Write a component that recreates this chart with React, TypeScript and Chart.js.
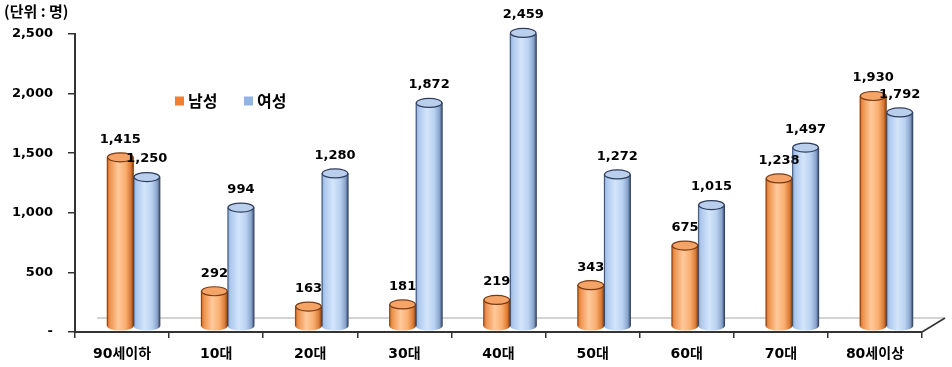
import React, { useEffect, useRef } from "react";
import { Chart, registerables } from "chart.js";

Chart.register(...registerables);

// ---- data ----
const categories = ["90세이하", "10대", "20대", "30대", "40대", "50대", "60대", "70대", "80세이상"];
const maleValues = [1415, 292, 163, 181, 219, 343, 675, 1238, 1930];
const femaleValues = [1250, 994, 1280, 1872, 2459, 1272, 1015, 1497, 1792];
const seriesNames = ["남성", "여성"];
const yTickValues = [0, 500, 1000, 1500, 2000, 2500];
const unitLabel = "(단위 : 명)";

// ---- style ----
const FONT = "'DejaVu Sans', 'Noto Sans CJK KR', sans-serif";
const KFONT = "'Noto Sans CJK KR', 'DejaVu Sans', sans-serif";
const BAR_W = 26.5;
const DEPTH_X_CAT = 0.122; // depth shift of bars, in categories
const DEPTH_Y_VAL = 50; // depth shift of bars, in value units

const palettes = [
  {
    legend: "#F07F32",
    top: "#F3A466",
    edge: "#7A3A12",
    stops: [
      [0, "#D46B28"],
      [0.12, "#EE9550"],
      [0.42, "#FFC99C"],
      [0.7, "#F9AE70"],
      [0.9, "#D97A35"],
      [1, "#7A3A12"],
    ],
  },
  {
    legend: "#93B3E2",
    top: "#BACFEC",
    edge: "#2F3D5C",
    stops: [
      [0, "#8DAEDC"],
      [0.12, "#AFCAEE"],
      [0.42, "#D3E5FB"],
      [0.7, "#B9D1F0"],
      [0.9, "#86A2CA"],
      [1, "#2F3D5C"],
    ],
  },
];

function barGradient(ctx: any, dsIndex: number) {
  const chart = ctx.chart;
  const pal = palettes[dsIndex];
  const xs = chart.scales.xb;
  if (!xs || !ctx.parsed) return pal.legend;
  const c = xs.getPixelForValue(ctx.parsed.x);
  if (!isFinite(c)) return pal.legend;
  const left = dsIndex === 0 ? c - BAR_W : c;
  const g = chart.ctx.createLinearGradient(left, 0, left + BAR_W, 0);
  pal.stops.forEach(([o, col]) => g.addColorStop(o as number, col as string));
  return g;
}

const cylinderPlugin = {
  id: "cylinder3d",
  beforeDatasetsDraw(chart: any) {
    const { ctx, chartArea } = chart;
    const y0 = chart.scales.y.getPixelForValue(0);
    ctx.save();
    ctx.strokeStyle = "#A8A8A8";
    ctx.lineWidth = 1;
    ctx.beginPath();
    ctx.moveTo(chartArea.left + 22, y0 - 14);
    ctx.lineTo(chartArea.right + 23, y0 - 14);
    ctx.stroke();
    ctx.strokeStyle = "#333";
    ctx.lineWidth = 1.5;
    ctx.beginPath();
    ctx.moveTo(chartArea.right, y0);
    ctx.lineTo(chartArea.right + 23, y0 - 14);
    ctx.stroke();
    ctx.restore();
  },
  afterDatasetsDraw(chart: any) {
    const { ctx } = chart;
    ctx.save();
    chart.data.datasets.forEach((ds: any, di: number) => {
      const meta = chart.getDatasetMeta(di);
      const pal = palettes[di];
      meta.data.forEach((el: any, i: number) => {
        const { x, y, base, width } = el.getProps(["x", "y", "base", "width"], true);
        const rx = width / 2;
        const ry = 4.5;
        // bottom
        ctx.beginPath();
        ctx.ellipse(x, base, rx, ry, 0, 0, Math.PI);
        ctx.closePath();
        ctx.fillStyle = el.options.backgroundColor;
        ctx.fill();
        // side outline
        ctx.strokeStyle = pal.edge;
        ctx.lineWidth = 0.8;
        ctx.beginPath();
        ctx.moveTo(x - rx + 0.4, y);
        ctx.lineTo(x - rx + 0.4, base);
        ctx.stroke();
        // top
        ctx.beginPath();
        ctx.ellipse(x, y, rx - 0.4, ry, 0, 0, Math.PI * 2);
        ctx.fillStyle = pal.top;
        ctx.fill();
        ctx.lineWidth = 1.2;
        ctx.strokeStyle = pal.edge;
        ctx.stroke();
        // value label
        ctx.fillStyle = "#000";
        ctx.font = `bold 13px ${FONT}`;
        ctx.textAlign = "center";
        ctx.textBaseline = "middle";
        ctx.fillText(Number(ds.data[i].y).toLocaleString("en-US"), x, y - 18);
      });
    });
    ctx.restore();
  },
  afterDraw(chart: any) {
    const { ctx } = chart;
    ctx.save();
    // unit label
    ctx.fillStyle = "#000";
    ctx.font = `bold 15px ${KFONT}`;
    ctx.textAlign = "left";
    ctx.textBaseline = "middle";
    ctx.fillText(unitLabel, 4, 11);
    // legend
    let lx = 175;
    const ly = 101;
    chart.data.datasets.forEach((ds: any, di: number) => {
      ctx.fillStyle = palettes[di].legend;
      ctx.fillRect(lx, ly - 4.5, 9, 9);
      ctx.fillStyle = "#000";
      ctx.font = `bold 16px ${KFONT}`;
      ctx.fillText(ds.label, lx + 13, ly);
      lx += 69;
    });
    ctx.restore();
  },
};

export default function App() {
  const ref = useRef<HTMLCanvasElement>(null);
  useEffect(() => {
    if (!ref.current) return;
    const mk = (vals: number[]) => vals.map((v, i) => ({ x: i, y: v }));
    const chart = new Chart(ref.current, {
      type: "bar",
      data: {
        labels: categories,
        datasets: [maleValues, femaleValues].map((vals, di) => ({
          label: seriesNames[di],
          data: mk(vals),
          xAxisID: "xb",
          yAxisID: "yb",
          barThickness: BAR_W,
          borderWidth: 0,
          backgroundColor: (c: any) => barGradient(c, di),
        })) as any,
      },
      options: {
        responsive: false,
        animation: false,
        devicePixelRatio: 1,
        events: [],
        layout: { padding: { top: 34, right: 30, left: 0, bottom: 0 } },
        plugins: { legend: { display: false }, tooltip: { enabled: false } },
        scales: {
          x: {
            type: "category",
            labels: categories,
            offset: true,
            position: "bottom",
            afterFit: (s: any) => {
              s.height = 35;
            },
            grid: { offset: true, drawOnChartArea: false, tickLength: 6, color: "#333", lineWidth: 1.5 },
            border: { display: true, color: "#333", width: 2 },
            ticks: { color: "#000", padding: 8, maxRotation: 0, font: { family: FONT, size: 14, weight: "bold" } },
          },
          xb: {
            type: "linear",
            display: false,
            offset: false,
            min: -0.5 - DEPTH_X_CAT,
            max: categories.length - 0.5 - DEPTH_X_CAT,
          },
          y: {
            type: "linear",
            position: "left",
            min: 0,
            max: 2500,
            afterFit: (s: any) => {
              s.width = 75;
            },
            afterBuildTicks: (s: any) => {
              s.ticks = yTickValues.map((v) => ({ value: v }));
            },
            grid: { drawOnChartArea: false, tickLength: 7, color: "#333", lineWidth: 1.5 },
            border: { display: true, color: "#333", width: 2 },
            ticks: {
              color: "#000",
              padding: 15,
              font: { family: FONT, size: 13, weight: "bold" },
              callback: (v: any) => (Number(v) === 0 ? "-" : Number(v).toLocaleString("en-US")),
            },
          },
          yb: {
            type: "linear",
            display: false,
            min: -DEPTH_Y_VAL,
            max: 2500 - DEPTH_Y_VAL,
          },
        },
      } as any,
      plugins: [cylinderPlugin],
    });
    return () => chart.destroy();
  }, []);
  return (
    <div style={{ position: "absolute", left: 0, top: 0, width: 952, height: 367, background: "#fff" }}>
      <canvas ref={ref} width={952} height={367} style={{ display: "block" }} />
    </div>
  );
}
